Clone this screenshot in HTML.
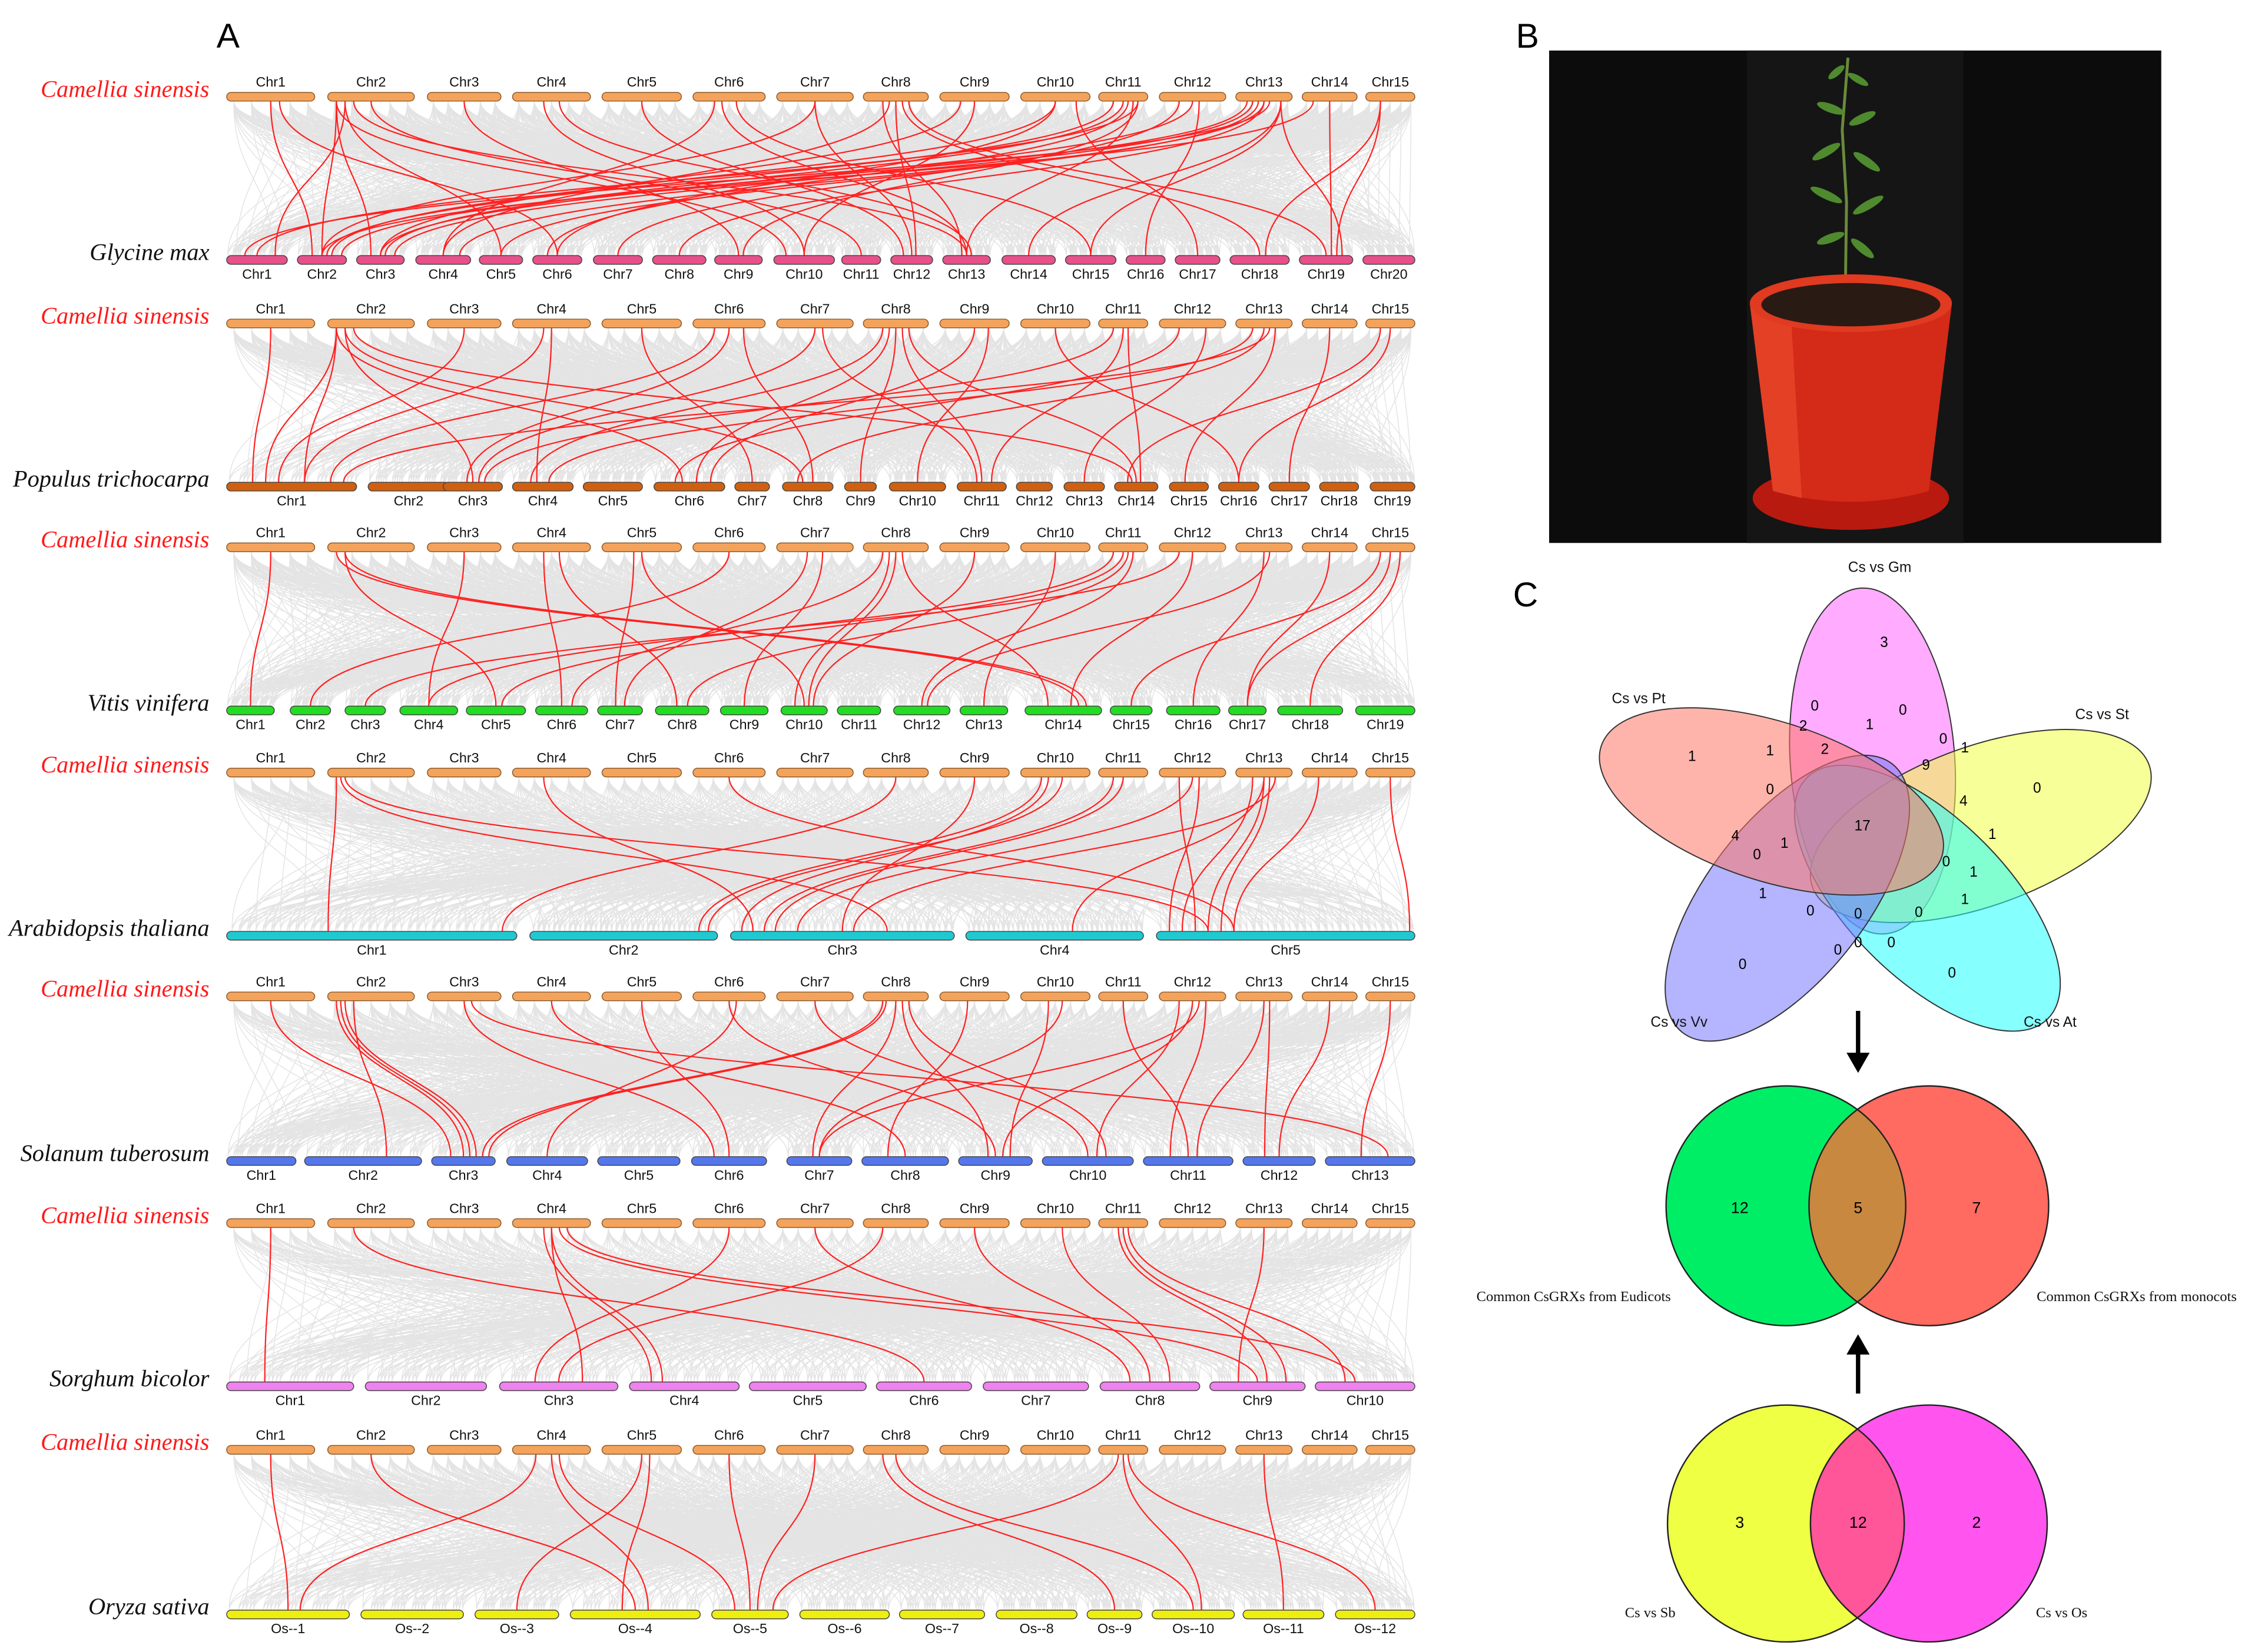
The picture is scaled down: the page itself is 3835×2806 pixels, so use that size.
<!DOCTYPE html>
<html><head><meta charset="utf-8"><style>
html,body{margin:0;padding:0;background:#fff;}
svg{display:block;}
text{font-family:"Liberation Sans",sans-serif;}
.sp{font-family:"Liberation Serif",serif;font-style:italic;font-size:16.5px;text-anchor:end;}
.cl{font-size:9.5px;text-anchor:middle;fill:#111;}
.vn{font-family:"Liberation Serif",serif;font-size:10px;text-anchor:middle;fill:#111;}
</style></head><body>
<svg id="fig" width="3835" height="2806" viewBox="0 0 1564 1144" preserveAspectRatio="none" xmlns="http://www.w3.org/2000/svg">
<g id="panelA"></g>
<g id="panelB">
 <text x="1050" y="33" font-family="Liberation Serif" font-size="24">B</text>
 <rect x="1073" y="35" width="424" height="341" fill="#0c0c0c"/>
 <rect x="1210" y="35" width="150" height="341" fill="#151515"/>
 <g>
  <path d="M1278 215 L1279 140 L1276 90 L1280 40" stroke="#6a8a3a" stroke-width="2" fill="none"/>
  <g fill="#4f8a2e">
   <ellipse cx="1272" cy="50" rx="7" ry="2.5" transform="rotate(-40 1272 50)"/>
   <ellipse cx="1287" cy="55" rx="8" ry="2.5" transform="rotate(30 1287 55)"/>
   <ellipse cx="1268" cy="75" rx="10" ry="3" transform="rotate(20 1268 75)"/>
   <ellipse cx="1290" cy="82" rx="10" ry="3" transform="rotate(-25 1290 82)"/>
   <ellipse cx="1265" cy="105" rx="11" ry="3" transform="rotate(-30 1265 105)"/>
   <ellipse cx="1293" cy="112" rx="11" ry="3" transform="rotate(35 1293 112)"/>
   <ellipse cx="1265" cy="135" rx="12" ry="3" transform="rotate(25 1265 135)"/>
   <ellipse cx="1294" cy="142" rx="12" ry="3" transform="rotate(-30 1294 142)"/>
   <ellipse cx="1268" cy="165" rx="10" ry="3" transform="rotate(-20 1268 165)"/>
   <ellipse cx="1290" cy="172" rx="10" ry="3" transform="rotate(40 1290 172)"/>
  </g>
 </g>
 <g>
  <ellipse cx="1282" cy="345" rx="68" ry="22" fill="#b81a10"/>
  <path d="M1212 210 L1352 210 L1336 340 Q1282 355 1228 340 Z" fill="#d42a18"/>
  <path d="M1212 210 L1240 210 L1248 345 L1228 340 Z" fill="#ee5030" opacity="0.6"/>
  <ellipse cx="1282" cy="210" rx="70" ry="20" fill="#e03a20"/>
  <ellipse cx="1282" cy="211" rx="62" ry="15" fill="#2a1a14"/>
 </g>
</g>
<g id="panelC">
 <defs>
  <clipPath id="cg"><circle cx="1237" cy="835" r="83"/></clipPath>
  <clipPath id="cy"><circle cx="1237" cy="1055" r="82"/></clipPath>
 </defs>
 <text x="1048" y="420" font-family="Liberation Serif" font-size="24">C</text>
 <g id="five" stroke="#333" stroke-width="0.8">
  <ellipse cx="1297" cy="527" rx="57" ry="120" transform="rotate(-4 1297 527)" fill="#ff66ff" fill-opacity="0.55"/>
  <ellipse cx="1372" cy="572" rx="124" ry="55" transform="rotate(-20 1372 572)" fill="#eeff44" fill-opacity="0.55"/>
  <ellipse cx="1335" cy="622" rx="118" ry="55" transform="rotate(45 1335 622)" fill="#22ffff" fill-opacity="0.55"/>
  <ellipse cx="1238" cy="622" rx="118" ry="55" transform="rotate(-52 1238 622)" fill="#7777ff" fill-opacity="0.55"/>
  <ellipse cx="1227" cy="555" rx="124" ry="55" transform="rotate(18 1227 555)" fill="#ff7766" fill-opacity="0.55"/>
 </g>
 <g id="fiveNums" font-size="10" text-anchor="middle"></g>
 <g class="vn">
  <text x="1302" y="396">Cs vs Gm</text><text x="1135" y="487">Cs vs Pt</text>
  <text x="1456" y="498">Cs vs St</text><text x="1163" y="711">Cs vs Vv</text><text x="1420" y="711">Cs vs At</text>
 </g>
 <path d="M1287 700 V733" stroke="#000" stroke-width="3"/><path d="M1279 729 L1295 729 L1287 743Z" fill="#000"/>
 <g>
  <circle cx="1237" cy="835" r="83" fill="#00ee66"/>
  <circle cx="1336" cy="835" r="83" fill="#ff6b60"/>
  <circle cx="1336" cy="835" r="83" fill="#c98840" clip-path="url(#cg)"/>
  <circle cx="1237" cy="835" r="83" fill="none" stroke="#222"/>
  <circle cx="1336" cy="835" r="83" fill="none" stroke="#222"/>
  <text x="1205" y="840" font-size="11" text-anchor="middle">12</text>
  <text x="1287" y="840" font-size="11" text-anchor="middle">5</text>
  <text x="1369" y="840" font-size="11" text-anchor="middle">7</text>
 </g>
 <text class="vn" x="1090" y="901">Common CsGRXs from Eudicots</text>
 <text class="vn" x="1480" y="901">Common CsGRXs from monocots</text>
 <path d="M1287 965 V935" stroke="#000" stroke-width="3"/><path d="M1279 938 L1295 938 L1287 924Z" fill="#000"/>
 <g>
  <circle cx="1237" cy="1055" r="82" fill="#eeff44"/>
  <circle cx="1336" cy="1055" r="82" fill="#ff55ee"/>
  <circle cx="1336" cy="1055" r="82" fill="#ff5599" clip-path="url(#cy)"/>
  <circle cx="1237" cy="1055" r="82" fill="none" stroke="#222"/>
  <circle cx="1336" cy="1055" r="82" fill="none" stroke="#222"/>
  <text x="1205" y="1058" font-size="11" text-anchor="middle">3</text>
  <text x="1287" y="1058" font-size="11" text-anchor="middle">12</text>
  <text x="1369" y="1058" font-size="11" text-anchor="middle">2</text>
 </g>
 <text class="vn" x="1143" y="1120">Cs vs Sb</text>
 <text class="vn" x="1428" y="1120">Cs vs Os</text>
</g>
</svg>
<script>
const NS="http://www.w3.org/2000/svg";
const csChr=[[157,218],[227,287],[296,347],[355,409],[417,472],[480,530],[538,591],[598,643],[651,699],[707,755],[761,795],[803,849],[856,895],[902,940],[946,980]];
const topY=[67,224,379,535,690,847,1004];
const botY=[180,337,492,648,804,960,1118];
const speciesNames=["Glycine max","Populus trichocarpa","Vitis vinifera","Arabidopsis thaliana","Solanum tuberosum","Sorghum bicolor","Oryza sativa"];
const speciesColors=["#e8508a","#d0600f","#22dd22","#20c8d0","#5577ee","#ee82ee","#eeee10"];
const gmChr=[[157,199],[206,240],[247,280],[288,326],[332,362],[369,403],[411,445],[452,489],[495,528],[536,578],[583,610],[617,646],[653,686],[694,731],[738,773],[780,807],[814,845],[852,893],[900,937],[944,980]];
const ptChr=[[157,247],[255,311],[307,348],[355,397],[404,445],[453,502],[509,533],[542,577],[585,607],[616,655],[663,697],[704,729],[737,765],[772,802],[810,837],[844,872],[879,907],[914,941],[949,980]];
const vvChr=[[157,190],[201,229],[239,267],[277,317],[323,364],[371,407],[414,445],[454,491],[499,532],[541,573],[580,610],[619,658],[665,698],[710,763],[769,798],[808,845],[851,877],[885,930],[939,980]];
const atChr=[[157,358],[367,497],[506,661],[669,792],[801,980]];
const stChr=[[157,205],[211,292],[299,343],[351,407],[414,471],[479,531],[545,590],[597,657],[664,715],[722,785],[792,854],[861,911],[918,980]];
const sbChr=[[157,245],[253,337],[346,428],[436,512],[519,600],[607,673],[681,754],[762,831],[838,904],[911,980]];
const osChr=[[157,242],[250,321],[329,387],[395,485],[493,546],[554,616],[623,682],[690,746],[753,791],[798,855],[861,917],[925,980]];
const botChrs=[gmChr,ptChr,vvChr,atChr,stChr,sbChr,osChr];
const osLabels=["Os--1","Os--2","Os--3","Os--4","Os--5","Os--6","Os--7","Os--8","Os--9","Os--10","Os--11","Os--12"];
// red syntenic links: [topChr, topFrac, botChr, botFrac]
const linksGm=[[2,.1,2,.5],[2,.1,3,.3],[2,.2,1,.8],[2,.1,10,.2],[2,.3,13,.5],[2,.2,5,.5],[1,.5,2,.3],[3,.5,9,.5],[4,.4,10,.5],[5,.5,12,.3],[6,.3,4,.5],[6,.4,13,.5],[7,.5,2,.5],[7,.5,12,.5],[8,.3,13,.4],[8,.5,12,.6],[8,.6,18,.5],[8,.7,19,.5],[8,.4,4,.5],[9,.3,3,.5],[9,.5,10,.5],[10,.5,6,.5],[10,.5,2,.7],[11,.3,2,.6],[11,.5,3,.6],[11,.6,6,.3],[11,.8,9,.6],[11,.8,1,.5],[12,.3,7,.5],[12,.5,3,.5],[13,.2,2,.9],[13,.3,3,.8],[13,.5,4,.8],[13,.6,1,.3],[13,.5,8,.5],[13,.8,14,.5],[13,.8,15,.5],[14,.5,19,.6],[13,.8,19,.8],[15,.3,19,.7],[15,.3,18,.6],[12,.6,16,.5],[10,.8,17,.5],[6,.6,15,.5],[4,.6,13,.6],[2,.5,11,.5],[1,.6,6,.5],[14,.2,2,.5],[13,.4,5,.5],[11,.7,13,.5]];
const linksPt=[[2,.1,1,.3],[2,.1,1,.6],[2,.1,6,.4],[2,.2,3,.5],[2,.3,14,.4],[2,.2,8,.4],[1,.5,1,.2],[3,.5,1,.4],[4,.4,1,.6],[4,.5,4,.4],[5,.5,7,.5],[6,.3,1,.8],[6,.5,3,.4],[6,.7,8,.6],[7,.5,3,.6],[7,.6,11,.4],[8,.3,4,.3],[8,.4,6,.6],[8,.5,9,.5],[8,.6,11,.5],[8,.7,14,.5],[9,.5,6,.8],[10,.5,16,.5],[11,.3,3,.7],[11,.5,11,.7],[11,.6,14,.6],[12,.3,6,.3],[13,.3,4,.6],[13,.5,8,.3],[13,.6,1,.9],[13,.7,15,.4],[14,.5,17,.5],[15,.5,16,.5],[15,.3,14,.3],[12,.7,13,.5],[9,.7,10,.5]];
const linksVv=[[1,.5,1,.5],[2,.2,5,.5],[2,.1,14,.7],[2,.2,14,.8],[3,.5,4,.5],[4,.4,6,.5],[4,.6,8,.4],[5,.4,7,.4],[5,.5,10,.5],[6,.5,2,.5],[7,.4,7,.6],[7,.6,9,.5],[8,.3,6,.7],[8,.4,10,.3],[8,.5,10,.6],[8,.6,14,.3],[9,.5,10,.7],[10,.5,13,.5],[11,.3,4,.5],[11,.5,5,.6],[11,.6,8,.6],[11,.7,12,.5],[12,.3,3,.5],[12,.5,14,.6],[13,.5,16,.5],[14,.5,17,.5],[15,.3,15,.5],[15,.5,17,.5],[15,.7,18,.5],[13,.6,12,.6]];
const linksAt=[[2,.1,1,.35],[2,.15,3,.7],[2,.2,5,.2],[4,.4,3,.1],[6,.5,5,.3],[10,.3,2,.9],[10,.4,3,.05],[11,.3,3,.15],[11,.5,3,.2],[12,.3,5,.15],[12,.5,3,.3],[13,.3,5,.1],[13,.5,5,.2],[13,.6,5,.25],[13,.5,4,.6],[14,.3,5,.3],[15,.5,5,.98],[9,.5,3,.5],[13,.7,3,.55],[8,.5,1,.95],[10,.6,2,.95],[12,.6,5,.05]];
const linksSt=[[1,.5,3,.3],[2,.1,3,.5],[2,.15,3,.6],[2,.2,3,.7],[2,.3,2,.7],[3,.5,6,.3],[4,.5,8,.5],[5,.5,6,.5],[6,.5,9,.5],[7,.5,10,.5],[8,.3,3,.8],[8,.35,3,.9],[8,.5,7,.4],[8,.6,9,.4],[8,.7,10,.7],[9,.4,8,.3],[10,.4,9,.7],[10,.6,7,.5],[11,.5,11,.5],[12,.3,10,.6],[12,.5,9,.6],[12,.6,7,.5],[12,.7,11,.3],[13,.5,11,.6],[13,.6,12,.3],[14,.5,12,.5],[15,.5,13,.4],[3,.6,13,.7],[6,.6,4,.5]];
const linksSb=[[1,.5,1,.3],[2,.3,6,.5],[4,.4,4,.2],[4,.5,4,.3],[4,.5,3,.7],[4,.6,9,.5],[4,.7,10,.4],[6,.5,3,.3],[7,.5,8,.3],[8,.3,3,.5],[9,.5,8,.5],[11,.4,9,.6],[11,.5,9,.8],[11,.6,10,.3],[10,.6,8,.7],[13,.5,9,.3]];
const linksOs=[[1,.5,1,.5],[2,.5,4,.5],[4,.3,1,.6],[4,.5,4,.6],[4,.6,5,.3],[5,.5,3,.5],[5,.6,4,.4],[6,.5,5,.5],[7,.5,5,.6],[8,.3,9,.5],[8,.5,10,.5],[11,.4,5,.8],[11,.5,10,.6],[11,.6,12,.5],[13,.5,11,.5]];
const allLinks=[linksGm,linksPt,linksVv,linksAt,linksSt,linksSb,linksOs];
// five-set Venn counts
const vennVals=["3","0","1","0","1","2","2","9","0","1","1","0","0","17","4","4","1","1","0","0","1","1","0","0","1","0","0","0","0","0","0"];
const vennPos=[[1305,445],[1257,489],[1295,502],[1318,492],[1172,524],[1249,503],[1264,519],[1334,530],[1346,512],[1361,518],[1226,520],[1411,546],[1226,547],[1290,572],[1360,555],[1202,579],[1380,578],[1236,584],[1217,592],[1348,597],[1367,604],[1221,619],[1254,631],[1287,633],[1361,623],[1329,632],[1310,653],[1287,653],[1273,658],[1207,668],[1352,674]];

const A=document.getElementById('panelA');
function mk(tag,attrs,parent){const e=document.createElementNS(NS,tag);for(const k in attrs)e.setAttribute(k,attrs[k]);(parent||A).appendChild(e);return e;}
const tA=mk('text',{x:150,y:33,'font-family':'Liberation Serif','font-size':24});tA.textContent='A';
function xAt(chrs,i,f){const c=chrs[i-1];return c[0]+(c[1]-c[0])*f;}
function curve(x1,y1,x2,y2){const m=(y1+y2)/2;return `M${x1.toFixed(1)} ${y1} C${x1.toFixed(1)} ${m} ${x2.toFixed(1)} ${m} ${x2.toFixed(1)} ${y2}`;}
const fracs=[0.08,0.28,0.5,0.72,0.92];
for(let p=0;p<7;p++){
  const yt=topY[p]+3, yb=botY[p]-3, bc=botChrs[p];
  let d='';
  const reps=bc.length<8?12:5;
  for(let i=1;i<=csChr.length;i++)for(let j=1;j<=bc.length;j++){
    for(let r=0;r<reps;r++){
      const f1=fracs[(i+j+r)%5], f2=((r+0.5)/reps+((i*7)%5)*0.03)%1;
      d+=curve(xAt(csChr,i,f1),yt,xAt(bc,j,f2),yb);
    }
  }
  const g=mk('path',{d:d,fill:'none',stroke:'#e4e4e4','stroke-width':0.6});
  
  
  const lg=mk('g',{fill:'none',stroke:'#ff2020','stroke-width':0.9});
  
  
  allLinks[p].forEach(L=>{
    const pa=mk('path',{d:curve(xAt(csChr,L[0],L[1]),yt,xAt(bc,L[2],L[3]),yb)},lg);
    
    
  });
  csChr.forEach((c,i)=>{
    const r=mk('rect',{x:c[0],y:topY[p]-3,width:c[1]-c[0],height:6,rx:3,fill:'#f4a35c',stroke:'#8a5a2a','stroke-width':0.6});
    
    
    const t=mk('text',{x:(c[0]+c[1])/2,y:topY[p]-7,class:'cl'});t.textContent='Chr'+(i+1);
  });
  bc.forEach((c,i)=>{
    const r=mk('rect',{x:c[0],y:botY[p]-3,width:c[1]-c[0],height:6,rx:3,fill:speciesColors[p],stroke:'#444','stroke-width':0.6});
    
    
    const t=mk('text',{x:(c[0]+c[1])/2,y:botY[p]+13,class:'cl'});t.textContent=p==6?osLabels[i]:'Chr'+(i+1);
  });
  const s1=mk('text',{x:145,y:topY[p]+0,class:'sp',fill:'#ff1a1a'});s1.textContent='Camellia sinensis';
  
  
  const s2=mk('text',{x:145,y:botY[p]+0,class:'sp',fill:'#111'});s2.textContent=speciesNames[p];
  
  
}
const vn=document.getElementById('fiveNums');
vennVals.forEach((v,i)=>{const t=mk('text',{x:vennPos[i][0],y:vennPos[i][1]+3},vn);t.textContent=v;
  
  });
</script>
</body></html>
